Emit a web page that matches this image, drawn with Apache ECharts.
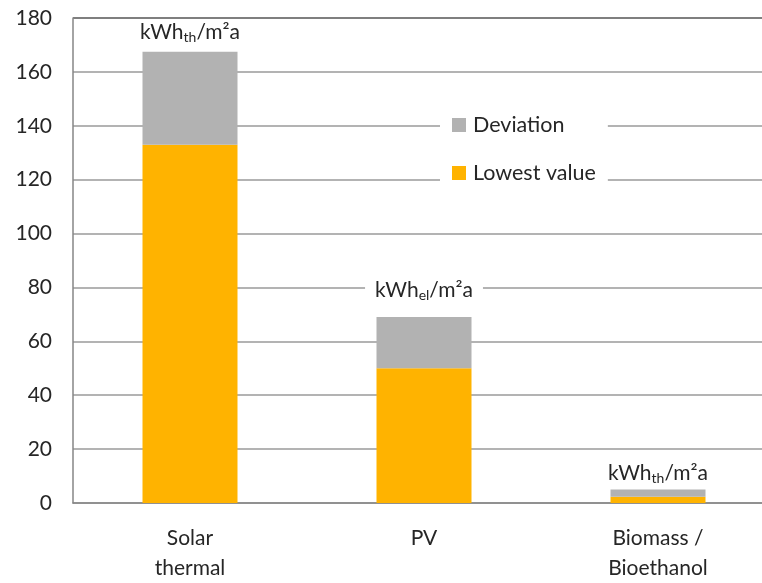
<!DOCTYPE html>
<html>
<head>
<meta charset="utf-8">
<script src="https://cdn.jsdelivr.net/npm/echarts@6/dist/echarts.min.js"></script>
<style>html,body{margin:0;padding:0;background:#fff;overflow:hidden;width:762px;height:583px}#c{width:775px;height:583px}</style>
</head>
<body>
<div id="c"></div>
<script>
const categories = ['Solar\nthermal', 'PV', 'Biomass /\nBioethanol'];
const lowestValue = [133, 50, 2.3];
const deviation = [34.5, 19, 2.7];
const unitSubscripts = ['th', 'el', 'th'];
const seriesNames = ['Deviation', 'Lowest value'];
const yTicks = [0, 20, 40, 60, 80, 100, 120, 140, 160, 180];

const FONT = 'Lato';
const TXT = '#262626';
const labelDist = [6, 14, 3];

const chart = echarts.init(document.getElementById('c'));
chart.setOption({
  animation: false,
  textStyle: { fontFamily: FONT },
  grid: { left: 73, right: 0, top: 18, bottom: 76, containLabel: false },
  legend: {
    data: [seriesNames[0], seriesNames[1]],
    orient: 'vertical',
    left: 440, top: 110,
    itemWidth: 14, itemHeight: 14, itemGap: 26,
    icon: 'rect',
    backgroundColor: '#fff',
    padding: [4, 12, 4, 12],
    textStyle: { fontFamily: FONT, fontSize: 21.5, color: TXT, padding: [0, 0, 0, 2] }
  },
  xAxis: {
    type: 'category',
    data: categories,
    axisLine: { lineStyle: { color: '#868686', width: 1.5 } },
    axisTick: { show: false },
    axisLabel: { fontFamily: FONT, fontSize: 21, color: TXT, lineHeight: 30, margin: 20 }
  },
  yAxis: {
    type: 'value',
    min: 0, max: 180, interval: 20,
    axisLine: { show: true, lineStyle: { color: '#868686', width: 1.5 } },
    axisTick: { show: false },
    axisLabel: { fontFamily: FONT, fontSize: 21, color: TXT, margin: 21,
      formatter: v => yTicks.includes(v) ? String(v) : '' },
    splitLine: { lineStyle: { color: ['#9a9a9a','#9a9a9a','#9a9a9a','#9a9a9a','#9a9a9a','#9a9a9a','#9a9a9a','#9a9a9a','#9a9a9a','#555'], width: 1.5 } }
  },
  series: [
    {
      name: seriesNames[1], type: 'bar', stack: 't', barWidth: 95,
      itemStyle: { color: '#FFB300' },
      data: lowestValue
    },
    {
      name: seriesNames[0], type: 'bar', stack: 't', barWidth: 95,
      itemStyle: { color: '#B2B2B2' },
      data: deviation.map((v, i) => ({
        value: v,
        label: {
          show: true, position: 'top', distance: labelDist[i],
          backgroundColor: '#fff', padding: [1, 10, 1, 10],
          formatter: '{a|kWh}{s|' + unitSubscripts[i] + '}{a|/m²a}',
          rich: {
            a: { fontFamily: FONT, fontSize: 21, color: TXT, lineHeight: 24 },
            s: { fontFamily: FONT, fontSize: 14, color: TXT, lineHeight: 13, verticalAlign: 'bottom' }
          }
        }
      }))
    }
  ]
});
</script>
</body>
</html>
